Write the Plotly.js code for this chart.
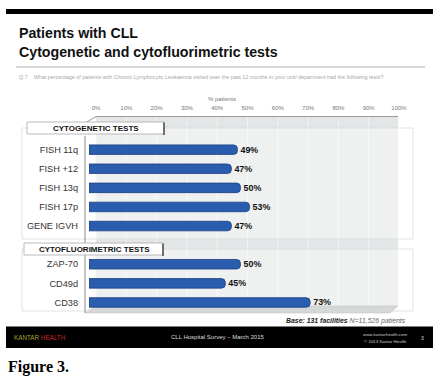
<!DOCTYPE html>
<html>
<head>
<meta charset="utf-8">
<script src="https://cdn.plot.ly/plotly-3.0.1.min.js"></script>
<style>html,body{margin:0;padding:0;background:#fff;}#chart{width:441px;height:380px;}</style>
</head>
<body>
<div id="chart"></div>
<script>
// ---- data ----
const groupHeaders = ["CYTOGENETIC TESTS", "CYTOFLUORIMETRIC TESTS"];
const cytogeneticTests = ["FISH 11q", "FISH +12", "FISH 13q", "FISH 17p", "GENE IGVH"];
const cytogeneticValues = [49, 47, 50, 53, 47];
const cytofluorimetricTests = ["ZAP-70", "CD49d", "CD38"];
const cytofluorimetricValues = [50, 45, 73];
const xTickValues = [0, 10, 20, 30, 40, 50, 60, 70, 80, 90, 100];
const xTickLabels = ["0%", "10%", "20%", "30%", "40%", "50%", "60%", "70%", "80%", "90%", "100%"];

// ---- layout geometry (pixels) ----
const W = 441, H = 380;
const L = 89, R = 392, T = 121, B = 312;
const PW = R - L, PH = B - T;
const px = x => (x - L) / PW;
const py = y => 1 - (y - T) / PH;
const FONT = "Liberation Sans, Arial, sans-serif";

const barColor = "#2B5DAE";
const barLine = "#1B3F80";

const categoryOrder = [groupHeaders[0]].concat(cytogeneticTests, [groupHeaders[1]], cytofluorimetricTests);

const traces = [
  {
    type: "bar", orientation: "h",
    y: cytogeneticTests, x: cytogeneticValues,
    text: cytogeneticValues.map(v => v + "%"),
    textposition: "outside", cliponaxis: false,
    textfont: {family: FONT, size: 9.3, color: "#111", weight: "bold"},
    marker: {color: barColor, line: {color: barLine, width: 0.8}, cornerradius: 4},
    width: 0.5, hoverinfo: "skip"
  },
  {
    type: "bar", orientation: "h",
    y: cytofluorimetricTests, x: cytofluorimetricValues,
    text: cytofluorimetricValues.map(v => v + "%"),
    textposition: "outside", cliponaxis: false,
    textfont: {family: FONT, size: 9.3, color: "#111", weight: "bold"},
    marker: {color: barColor, line: {color: barLine, width: 0.8}, cornerradius: 4},
    width: 0.5, hoverinfo: "skip"
  }
];

const shapes = [];
// top black bar
shapes.push({type: "rect", xref: "paper", yref: "paper", x0: px(6), x1: px(433), y0: py(9), y1: py(14), fillcolor: "#000", line: {width: 0}, layer: "below"});
// rule under title
shapes.push({type: "line", xref: "paper", yref: "paper", x0: px(16), x1: px(425), y0: py(67), y1: py(67), line: {color: "#b0b0b0", width: 1}, layer: "below"});
// back wall
shapes.push({type: "rect", xref: "paper", yref: "paper", x0: px(96), x1: px(398), y0: py(116), y1: py(306), fillcolor: "#e2e6e6", line: {width: 0}, layer: "below"});
// wall gridlines (offset by the 3-D depth)
xTickValues.forEach(v => {
  shapes.push({type: "line", xref: "x", yref: "paper", xsizemode: "pixel", xanchor: v, x0: 7, x1: 7,
    y0: py(116), y1: py(306), line: {color: "#f2f4f4", width: 1}, layer: "below"});
});
// wall top edge and depth diagonal
shapes.push({type: "line", xref: "paper", yref: "paper", x0: px(96), x1: px(398), y0: py(116.5), y1: py(116.5), line: {color: "#9a9a9a", width: 1}, layer: "below"});
shapes.push({type: "line", xref: "paper", yref: "paper", x0: px(85), x1: px(96), y0: py(123), y1: py(116.5), line: {color: "#9a9a9a", width: 1}, layer: "below"});
// translucent panels
shapes.push({type: "rect", xref: "paper", yref: "paper", x0: px(22), x1: px(413), y0: py(128), y1: py(239), fillcolor: "rgba(255,255,255,0.45)", line: {color: "#dcdcdc", width: 0.8}, layer: "below"});
shapes.push({type: "rect", xref: "paper", yref: "paper", x0: px(22), x1: px(413), y0: py(249), y1: py(311), fillcolor: "rgba(255,255,255,0.45)", line: {color: "#dcdcdc", width: 0.8}, layer: "below"});
// floor
shapes.push({type: "path", xref: "paper", yref: "paper",
  path: `M ${px(85)},${py(313)} L ${px(96)},${py(306)} L ${px(398)},${py(306)} L ${px(390)},${py(313)} Z`,
  fillcolor: "#d6d8d8", line: {color: "#c4c6c6", width: 0.6}, layer: "below"});
// y axis line
shapes.push({type: "line", xref: "paper", yref: "paper", x0: px(85), x1: px(85), y0: py(136), y1: py(313), line: {color: "#8a8a8a", width: 1}, layer: "below"});
// header boxes
shapes.push({type: "rect", xref: "paper", yref: "paper", x0: px(27), x1: px(164), y0: py(122), y1: py(134), fillcolor: "#fff", line: {color: "#a8a8a8", width: 0.8}});
shapes.push({type: "line", xref: "paper", yref: "paper", x0: px(164), x1: px(164), y0: py(122.5), y1: py(135), line: {color: "#555", width: 1.6}});
shapes.push({type: "rect", xref: "paper", yref: "paper", x0: px(24), x1: px(163), y0: py(243), y1: py(255), fillcolor: "#fff", line: {color: "#a8a8a8", width: 0.8}});
shapes.push({type: "line", xref: "paper", yref: "paper", x0: px(163), x1: px(163), y0: py(243.5), y1: py(256), line: {color: "#555", width: 1.6}});
// bottom black bar
shapes.push({type: "rect", xref: "paper", yref: "paper", x0: px(6), x1: px(433), y0: py(326.5), y1: py(348), fillcolor: "#000", line: {width: 0}});

const ann = (x, y, text, opts) => Object.assign({
  xref: "paper", yref: "paper", x: px(x), y: py(y), text: text, showarrow: false,
  xanchor: "left", yanchor: "middle", font: {family: FONT, size: 8, color: "#000"}
}, opts || {});

const annotations = [
  ann(17, 33, "Patients with CLL", {font: {family: FONT, size: 14.2, color: "#111", weight: "bold"}}),
  ann(17, 52, "Cytogenetic and cytofluorimetric tests", {font: {family: FONT, size: 14.2, color: "#111", weight: "bold"}}),
  ann(17, 77, "Q.7&nbsp;&nbsp;&nbsp;&nbsp;What percentage of patients with Chronic Lymphocytic Leukaemia visited over the past 12 months in your unit/ department had the following tests?", {font: {family: FONT, size: 5.4, color: "#a8a8a8"}}),
  ann(222, 99, "% patients", {xanchor: "center", font: {family: FONT, size: 6, color: "#777"}}),
  ann(96, 128.3, groupHeaders[0], {xanchor: "center", font: {family: FONT, size: 8, color: "#111", weight: "bold"}}),
  ann(94, 249.3, groupHeaders[1], {xanchor: "center", font: {family: FONT, size: 8, color: "#111", weight: "bold"}}),
  ann(408, 321, "<b><i>Base: 131 facilities</i></b> <span style='color:#666'><i>N=11,526 patients</i></span>", {xanchor: "right", font: {family: FONT, size: 6.9, color: "#222"}}),
  ann(12, 337.5, "<span style='color:#a3a332'>KANTAR</span> <span style='color:#d2232e'>HEALTH</span>", {font: {family: FONT, size: 6.3, color: "#a3a332"}}),
  ann(217, 337, "CLL Hospital Survey – March 2015", {xanchor: "center", font: {family: FONT, size: 6, color: "#dddddd"}}),
  ann(385, 334, "www.kantarhealth.com", {xanchor: "center", font: {family: FONT, size: 4.4, color: "#cccccc"}}),
  ann(385, 341, "© 2013 Kantar Health", {xanchor: "center", font: {family: FONT, size: 4.4, color: "#cccccc"}}),
  ann(422, 337.5, "3", {xanchor: "center", font: {family: FONT, size: 5, color: "#dddddd"}}),
  ann(6, 367, "Figure 3.", {font: {family: "Liberation Serif, Times New Roman, serif", size: 16, color: "#000", weight: "bold"}})
];

const layout = {
  width: W, height: H,
  margin: {l: L, r: W - R, t: T, b: H - B, pad: 0},
  paper_bgcolor: "#fff", plot_bgcolor: "rgba(0,0,0,0)",
  showlegend: false, barmode: "overlay",
  xaxis: {
    range: [0, 100], side: "top", tickmode: "array", tickvals: xTickValues, ticktext: xTickLabels,
    tickfont: {family: FONT, size: 6, color: "#777"},
    showgrid: false, zeroline: false, showline: false, ticks: "",
    ticklabelshift: 7, ticklabelstandoff: 9, fixedrange: true
  },
  yaxis: {
    type: "category", categoryorder: "array",
    categoryarray: categoryOrder,
    tickmode: "array",
    tickvals: cytogeneticTests.concat(cytofluorimetricTests),
    ticktext: cytogeneticTests.concat(cytofluorimetricTests),
    range: [categoryOrder.length - 0.5, -0.5],
    tickfont: {family: FONT, size: 9.2, color: "#333"},
    showgrid: false, zeroline: false, showline: false, ticks: "",
    ticklabelstandoff: 10, fixedrange: true
  },
  shapes: shapes,
  annotations: annotations
};

Plotly.newPlot("chart", traces, layout, {staticPlot: true, displayModeBar: false});
</script>
</body>
</html>
